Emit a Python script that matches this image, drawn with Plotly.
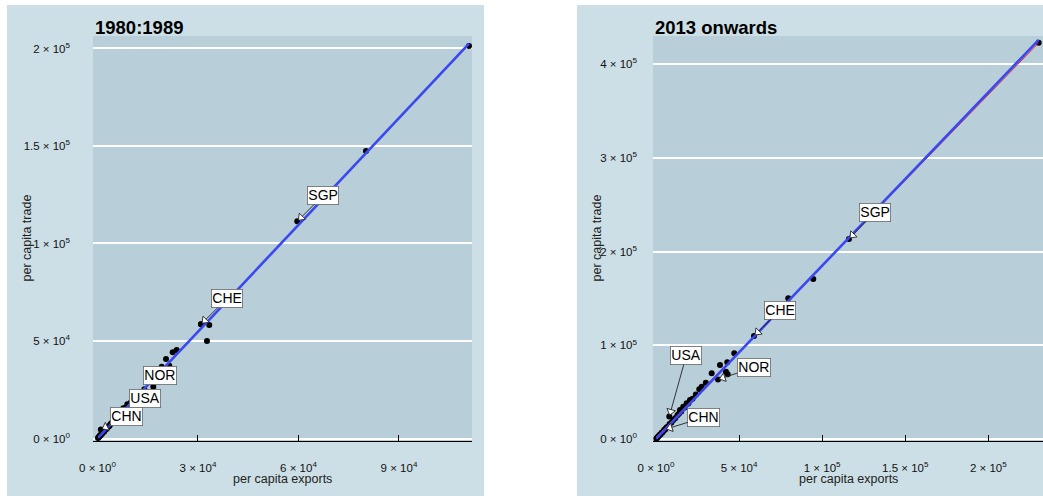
import math
import numpy as np
import plotly.graph_objects as go

W, H = 1043, 496
FONT = "Liberation Sans, Arial, sans-serif"

# ---- 1980:1989 : per capita exports vs per capita trade ----
exports_80s = [110900, 80150, 30900.0, 33370, 32690, 22450, 23640, 20450, 19160, 21430,
               7700, 10000, 9200, 8400, 7100, 6500, 6000, 5500, 5100, 4700, 4300, 3900,
               3600, 3300, 3000, 2700, 2400, 2200, 2000, 1800, 1600, 1400, 1250, 1100,
               900, 750, 600, 450, 300, 150, 12500, 14000]
trade_80s = [201300, 147400, 58560, 58200, 50000, 44200, 45380, 40770, 36820, 37330,
             15500, 18600, 17100, 15800, 13300, 12200, 11000, 10400, 9600, 8500, 8100, 7400,
             6500, 6200, 5800, 4900, 4600, 4300, 3600, 3500, 3100, 2600, 2500, 2100,
             1650, 1500, 1100, 900, 520, 300, 22800, 25300]
label_codes_80s = ["SGP", "CHE", "NOR", "USA", "CHN"]
label_exports_80s = [59640, 30900, 16660, 8900, 1000]
label_trade_80s = [111380, 58560, 26560, 17600, 4600]

# ---- 2013 onwards ----
exports_13 = [230300, 94650, 79600, 47100, 38500, 42900, 42120, 43140, 33500, 27500,
              26050, 20460, 18460, 16400, 14440, 30000, 24000, 22000, 19500, 17300,
              15200, 13800, 12900, 11600, 10400, 9300, 8200, 7200, 6300, 5500, 4700,
              4000, 3400, 2800, 2300, 1800, 1300, 900, 500, 200]
trade_13 = [422900, 170750, 150150, 91460, 78970, 81850, 71820, 69050, 70100, 55800,
            53000, 41620, 38100, 34470, 30950, 60000, 47500, 43000, 37800, 33600,
            29500, 27000, 25400, 22100, 20300, 17600, 16000, 13500, 12400, 10400, 9000,
            7300, 6600, 5200, 4500, 3400, 2600, 1700, 1000, 400]
label_codes_13 = ["SGP", "CHE", "USA", "NOR", "CHN"]
label_exports_13 = [116100, 58970, 8000, 37300, 5400]
label_trade_13 = [213400, 109900, 24000, 63500, 10300]

# ---- tick labels ----
x_ticks_80s = [0, 30000, 60000, 90000]
x_text_80s = ["0 × 10<sup>0</sup>", "3 × 10<sup>4</sup>", "6 × 10<sup>4</sup>", "9 × 10<sup>4</sup>"]
y_ticks_80s = [0, 50000, 100000, 150000, 200000]
y_text_80s = ["0 × 10<sup>0</sup>", "5 × 10<sup>4</sup>", "1 × 10<sup>5</sup>",
              "1.5 × 10<sup>5</sup>", "2 × 10<sup>5</sup>"]
x_ticks_13 = [0, 50000, 100000, 150000, 200000]
x_text_13 = ["0 × 10<sup>0</sup>", "5 × 10<sup>4</sup>", "1 × 10<sup>5</sup>",
             "1.5 × 10<sup>5</sup>", "2 × 10<sup>5</sup>"]
y_ticks_13 = [0, 100000, 200000, 300000, 400000]
y_text_13 = ["0 × 10<sup>0</sup>", "1 × 10<sup>5</sup>", "2 × 10<sup>5</sup>",
             "3 × 10<sup>5</sup>", "4 × 10<sup>5</sup>"]

# panel geometry in pixels: outer card, plotting area, axis ranges, label offsets
panels = [
    dict(title="1980:1989", card=(7, 5, 484, 496), area=(93, 36, 472, 441),
         xr=(-1340, 111800), yr=(-1280, 206400),
         ex=exports_80s, tr=trade_80s,
         lc=label_codes_80s, lx=label_exports_80s, ly=label_trade_80s,
         offs=[(26, -26, True), (26, -26, True), (7, -11, False), (18, -6, False), (26, -13, True)],
         xt=(x_ticks_80s, x_text_80s), yt=(y_ticks_80s, y_text_80s), ystand=22, ytx=26),
    dict(title="2013 onwards", card=(577, 5, 1043, 496), area=(653, 36, 1043, 441),
         xr=(-1800, 232900), yr=(-2100, 430100),
         ex=exports_13, tr=trade_13,
         lc=label_codes_13, lx=label_exports_13, ly=label_trade_13,
         offs=[(26, -27, True), (26, -26, True), (17, -61, True), (36, -12, True), (39, -12, True)],
         xt=(x_ticks_13, x_text_13), yt=(y_ticks_13, y_text_13), ystand=15, ytx=596),
]

fig = go.Figure()
shapes, annotations = [], []

for i, p in enumerate(panels):
    n = "" if i == 0 else str(i + 1)
    xa, ya = "x" + n, "y" + n
    x0, y0, x1, y1 = p["area"]
    xr0, xr1 = p["xr"]
    yr0, yr1 = p["yr"]

    def to_px(x, y):
        return (x0 + (x - xr0) / (xr1 - xr0) * (x1 - x0),
                y1 - (y - yr0) / (yr1 - yr0) * (y1 - y0))

    def to_data(px, py):
        return (xr0 + (px - x0) / (x1 - x0) * (xr1 - xr0),
                yr0 + (y1 - py) / (y1 - y0) * (yr1 - yr0))

    cx0, cy0, cx1, cy1 = p["card"]
    shapes.append(dict(type="rect", xref="paper", yref="paper", layer="below",
                       x0=cx0 / W, x1=cx1 / W, y0=1 - cy1 / H, y1=1 - cy0 / H,
                       fillcolor="#cddfe6", line_width=0))
    shapes.append(dict(type="rect", xref="paper", yref="paper", layer="below",
                       x0=x0 / W, x1=x1 / W, y0=1 - y1 / H, y1=1 - y0 / H,
                       fillcolor="#b8ced9", line_width=0))

    ex = np.array(p["ex"] + p["lx"], dtype=float)
    tr = np.array(p["tr"] + p["ly"], dtype=float)

    # fitted lines: ordinary least squares (red) and fit through the origin (blue)
    b1, b0 = np.polyfit(ex, tr, 1)
    k = float(np.sum(ex * tr) / np.sum(ex * ex))
    xs = np.array([ex.min(), ex.max()])
    fig.add_trace(go.Scatter(x=ex, y=tr, mode="markers", xaxis=xa, yaxis=ya,
                             marker=dict(color="black", size=6), showlegend=False,
                             hoverinfo="skip"))
    fig.add_trace(go.Scatter(x=xs, y=b0 + b1 * xs, mode="lines", xaxis=xa, yaxis=ya,
                             line=dict(color="#e8262b", width=1.0), showlegend=False))
    fig.add_trace(go.Scatter(x=xs, y=k * xs, mode="lines", xaxis=xa, yaxis=ya,
                             line=dict(color="#3a48f0", width=2.6), showlegend=False))

    # repelled labels with open triangle heads
    tri_x, tri_y, tri_a = [], [], []
    r, gap = 3.8, 1.5
    for code, lx, ly, (dx, dy, arrow) in zip(p["lc"], p["lx"], p["ly"], p["offs"]):
        annotations.append(dict(
            x=lx, y=ly, xref=xa, yref=ya, ax=dx, ay=dy, text=code, showarrow=True,
            arrowhead=0, arrowwidth=0.9,
            arrowcolor="#222" if arrow else "rgba(0,0,0,0)",
            standoff=gap + 1.5 * r, bgcolor="white", bordercolor="#666",
            borderwidth=0.8, borderpad=0.5,
            font=dict(family=FONT, size=14, color="black")))
        if arrow:
            px, py = to_px(lx, ly)
            L = math.hypot(dx, dy)
            ux, uy = -dx / L, -dy / L
            cx, cy = px - ux * (gap + r), py - uy * (gap + r)
            tx, ty = to_data(cx, cy)
            tri_x.append(tx)
            tri_y.append(ty)
            tri_a.append(math.degrees(math.atan2(ux, -uy)))
    fig.add_trace(go.Scatter(x=tri_x, y=tri_y, mode="markers", xaxis=xa, yaxis=ya,
                             marker=dict(symbol="triangle-up", size=2 * r, angle=tri_a,
                                         color="white", line=dict(color="#222", width=0.9)),
                             showlegend=False, hoverinfo="skip"))

    xt, xtt = p["xt"]
    yt, ytt = p["yt"]
    fig.layout["xaxis" + n] = dict(
        domain=[x0 / W, x1 / W], range=list(p["xr"]), anchor=ya, automargin=False,
        tickvals=xt, ticktext=xtt, ticks="inside", ticklen=6, tickwidth=1.2,
        tickcolor="black", showline=True, linecolor="black", linewidth=1.4,
        showgrid=False, zeroline=False, ticklabelstandoff=16,
        tickfont=dict(family=FONT, size=11.5, color="#111"))
    fig.layout["yaxis" + n] = dict(
        domain=[1 - y1 / H, 1 - y0 / H], range=list(p["yr"]), anchor=xa, automargin=False,
        tickvals=yt, ticktext=ytt, ticks="", showline=False,
        showgrid=True, gridcolor="white", gridwidth=2, zeroline=False,
        ticklabelstandoff=p["ystand"],
        tickfont=dict(family=FONT, size=11.5, color="#111"))

    annotations.append(dict(x=x0 / W, y=1 - 28 / H, xref="paper", yref="paper",
                            xanchor="left", yanchor="middle", showarrow=False,
                            text="<b>" + p["title"] + "</b>",
                            font=dict(family=FONT, size=18.5, color="black")))
    annotations.append(dict(x=(x0 + x1) / 2 / W, y=1 - 479 / H, xref="paper", yref="paper",
                            xanchor="center", yanchor="middle", showarrow=False,
                            text="per capita exports",
                            font=dict(family=FONT, size=12.5, color="#222")))
    annotations.append(dict(x=p["ytx"] / W, y=1 - (y0 + y1) / 2 / H, xref="paper",
                            yref="paper", xanchor="center", yanchor="middle",
                            showarrow=False, textangle=-90, text="per capita trade",
                            font=dict(family=FONT, size=12.5, color="#222")))

fig.update_layout(width=W, height=H, margin=dict(l=0, r=0, t=0, b=0, autoexpand=False),
                  paper_bgcolor="white", plot_bgcolor="rgba(0,0,0,0)",
                  shapes=shapes, annotations=annotations, showlegend=False)

fig.write_html("out.html")
